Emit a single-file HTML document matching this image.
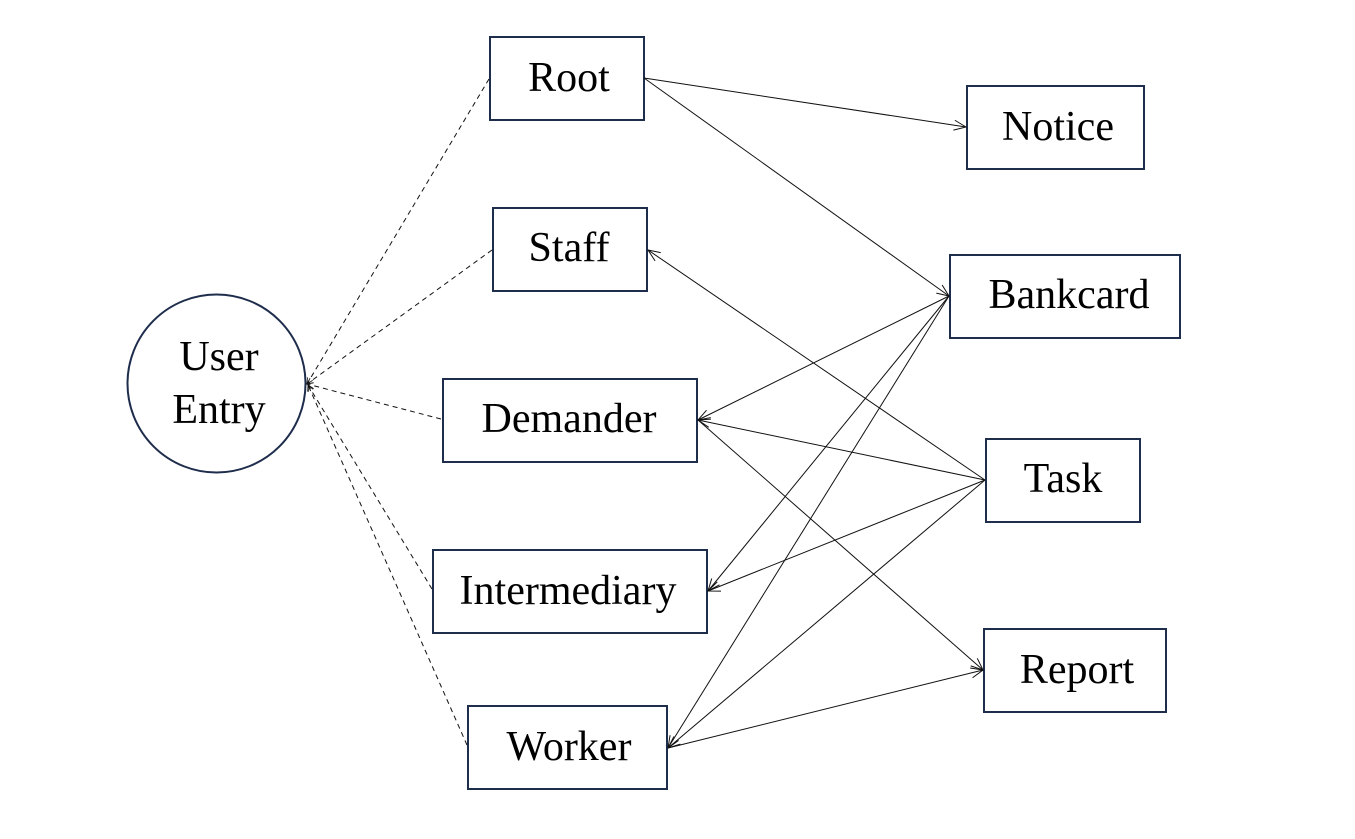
<!DOCTYPE html>
<html><head><meta charset="utf-8"><style>
html,body{margin:0;padding:0;background:#fff;}
svg{display:block;}
text{font-family:"Liberation Serif",serif;font-size:42px;fill:#000;}
</style></head><body>
<svg width="1355" height="839" viewBox="0 0 1355 839" xmlns="http://www.w3.org/2000/svg">
<defs>
<marker id="a" markerWidth="14" markerHeight="12" refX="13" refY="6" orient="auto" markerUnits="userSpaceOnUse">
<path d="M1,1 L13,6 L1,11" fill="none" stroke="#111" stroke-width="1"/>
</marker>
<marker id="s" markerWidth="8" markerHeight="8" refX="7" refY="4" orient="auto" markerUnits="userSpaceOnUse">
<path d="M1,1 L7,4 L1,7" fill="none" stroke="#111" stroke-width="0.8"/>
</marker>
</defs>
<g fill="none" stroke="#1f2d4d" stroke-width="2">
<circle cx="216.5" cy="383.5" r="89"/>
<rect x="490" y="37" width="154" height="83"/>
<rect x="967" y="86" width="177" height="83"/>
<rect x="493" y="208" width="154" height="83"/>
<rect x="950" y="255" width="230" height="83"/>
<rect x="443" y="379" width="254" height="83"/>
<rect x="986" y="439" width="154" height="83"/>
<rect x="433" y="550" width="274" height="83"/>
<rect x="984" y="629" width="182" height="83"/>
<rect x="468" y="706" width="199" height="83"/>
</g>
<g stroke="#111" stroke-width="1" stroke-dasharray="5,4" fill="none">
<line x1="489" y1="79" x2="307" y2="384" marker-end="url(#s)"/>
<line x1="492" y1="250" x2="307" y2="384" marker-end="url(#s)"/>
<line x1="441" y1="419" x2="307" y2="384" marker-end="url(#s)"/>
<line x1="432" y1="589" x2="308" y2="385" marker-end="url(#s)"/>
<line x1="467" y1="745" x2="308" y2="385" marker-end="url(#s)"/>
</g>
<g stroke="#111" stroke-width="1" fill="none">
<line x1="644" y1="78" x2="966" y2="127" marker-end="url(#a)"/>
<line x1="644" y1="78" x2="949" y2="296" marker-end="url(#a)"/>
<line x1="985" y1="480" x2="648" y2="250" marker-end="url(#a)"/>
<line x1="949" y1="296" x2="698" y2="420" marker-end="url(#a)"/>
<line x1="985" y1="480" x2="698" y2="420" marker-end="url(#a)"/>
<line x1="698" y1="420" x2="983" y2="670" marker-end="url(#a)"/>
<line x1="949" y1="296" x2="708" y2="591" marker-end="url(#a)"/>
<line x1="985" y1="480" x2="708" y2="591" marker-end="url(#a)"/>
<line x1="949" y1="296" x2="668" y2="748" marker-end="url(#a)"/>
<line x1="985" y1="480" x2="668" y2="748" marker-end="url(#a)"/>
<line x1="668" y1="748" x2="983" y2="670" marker-end="url(#a)"/>
</g>
<g text-anchor="middle">
<text x="219" y="370">User</text>
<text x="219" y="423">Entry</text>
<text x="569" y="91">Root</text>
<text x="1058" y="140">Notice</text>
<text x="569" y="261">Staff</text>
<text x="1069" y="308">Bankcard</text>
<text x="569" y="432">Demander</text>
<text x="1063" y="492">Task</text>
<text x="568" y="604">Intermediary</text>
<text x="1077" y="683">Report</text>
<text x="569" y="760">Worker</text>
</g>
</svg>
</body></html>
